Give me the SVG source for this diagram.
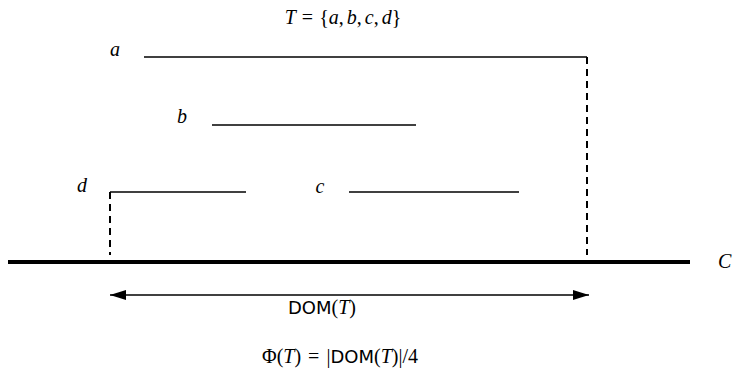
<svg xmlns="http://www.w3.org/2000/svg" width="733" height="374" viewBox="0 0 733 374">
<style>
.m{font-family:"Liberation Serif",serif;font-size:20px;fill:#000}
.i{font-style:italic}
.s{font-family:"DejaVu Sans","Liberation Sans",sans-serif;font-size:18px}
.l{stroke:#000;stroke-width:1.6;fill:none}
.d{stroke:#000;stroke-width:2;fill:none;stroke-dasharray:7 5}
</style>
<defs>
<marker id="ah2" viewBox="0 0 16 10" refX="16" refY="5" markerWidth="16" markerHeight="10" markerUnits="userSpaceOnUse" orient="auto-start-reverse">
<path d="M0,0 L16,5 L0,10 Z" fill="#000"/>
</marker>
</defs>
<text class="m" x="343" y="24" text-anchor="middle"><tspan class="i">T</tspan><tspan dx="6">=</tspan><tspan dx="6">{</tspan><tspan class="i">a</tspan>,<tspan dx="3" class="i">b</tspan>,<tspan dx="3" class="i">c</tspan>,<tspan dx="3" class="i">d</tspan>}</text>
<g id="a"><text class="m i" x="115" y="56" text-anchor="middle">a</text><path class="l" d="M144,57 H587"/></g>
<g id="b"><text class="m i" x="182" y="123" text-anchor="middle">b</text><path class="l" d="M212,125 H416"/></g>
<g id="d"><text class="m i" x="82" y="192" text-anchor="middle">d</text><path class="l" d="M110,192 H246"/></g>
<g id="c"><text class="m i" x="320" y="193" text-anchor="middle">c</text><path class="l" d="M349,192 H519"/></g>
<g id="C"><path d="M8,262 H690" stroke="#000" stroke-width="4"/><text class="m i" x="718" y="268">C</text></g>
<g id="connectors">
<path class="d" d="M587,57 V255"/>
<path class="d" d="M110,192 V255"/>
<path class="l" d="M110,295 H589" marker-start="url(#ah2)" marker-end="url(#ah2)"/>
</g>
<text class="m" x="322" y="314" text-anchor="middle"><tspan class="s">DOM</tspan>(<tspan class="i">T</tspan>)</text>
<text class="m" x="340" y="363" text-anchor="middle">Φ(<tspan class="i">T</tspan>)<tspan dx="7">=</tspan><tspan dx="7">|</tspan><tspan class="s">DOM</tspan>(<tspan class="i">T</tspan>)|/4</text>
</svg>
